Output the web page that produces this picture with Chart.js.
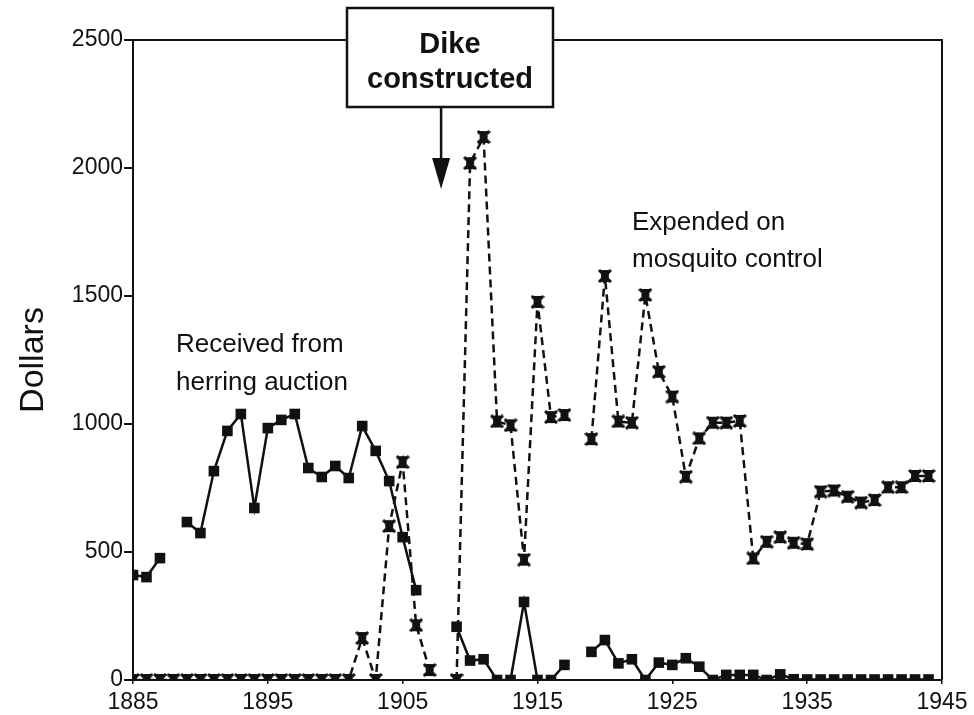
<!DOCTYPE html>
<html>
<head>
<meta charset="utf-8">
<title>Herring auction vs mosquito control</title>
<script src="https://cdn.jsdelivr.net/npm/chart.js@4.4.0/dist/chart.umd.min.js"></script>
<style>
  html, body { margin: 0; padding: 0; background: #fff; }
  #wrap { width: 974px; height: 715px; position: relative; }
</style>
</head>
<body>
<div id="wrap"><canvas id="chart" width="974" height="715"></canvas></div>
<script>
// Years on the x axis
const years = [
  1885, 1886, 1887, 1888, 1889, 1890, 1891, 1892, 1893, 1894,
  1895, 1896, 1897, 1898, 1899, 1900, 1901, 1902, 1903, 1904,
  1905, 1906, 1907, 1908, 1909, 1910, 1911, 1912, 1913, 1914,
  1915, 1916, 1917, 1918, 1919, 1920, 1921, 1922, 1923, 1924,
  1925, 1926, 1927, 1928, 1929, 1930, 1931, 1932, 1933, 1934,
  1935, 1936, 1937, 1938, 1939, 1940, 1941, 1942, 1943, 1944
];

// Received from herring auction (dollars), null = no record
const herring = [
  410, 402, 476, null, 617, 574, 816, 973, 1039, 672,
  984, 1016, 1039, 828, 793, 836, 789, 992, 895, 777,
  558, 351, null, null, 208, 76, 81, 0, 0, 305,
  0, 0, 59, null, 110, 156, 65, 81, 0, 68,
  59, 85, 52, 0, 20, 20, 20, 0, 22, 3,
  2, 2, 2, 2, 2, 2, 2, 2, 2, 2
];

// Expended on mosquito control (dollars)
const mosquito = [
  0, 0, 0, 0, 0, 0, 0, 0, 0, 0,
  0, 0, 0, 0, 0, 0, 0, 164, 0, 601,
  851, 214, 39, null, 0, 2019, 2121, 1010, 995, 470,
  1477, 1027, 1035, null, 941, 1578, 1010, 1005, 1504, 1204,
  1107, 794, 944, 1005, 1005, 1012, 475, 540, 558, 536,
  531, 736, 740, 716, 693, 703, 753, 753, 797, 797
];

const yTicks = [0, 500, 1000, 1500, 2000, 2500];
const xTicks = [1885, 1895, 1905, 1915, 1925, 1935, 1945];

const INK = '#111';
const FONT = "'Liberation Sans', Arial, Helvetica, sans-serif";

// asterisk / hourglass marker used for the mosquito series
function makeStarMarker() {
  const c = document.createElement('canvas');
  c.width = 14; c.height = 14;
  const g = c.getContext('2d');
  g.fillStyle = INK;
  g.beginPath();
  g.moveTo(1, 1); g.lineTo(13, 1); g.lineTo(7, 7);
  g.lineTo(13, 13); g.lineTo(1, 13); g.lineTo(7, 7);
  g.closePath();
  g.fill();
  g.strokeStyle = INK;
  g.lineWidth = 3;
  g.beginPath();
  g.moveTo(1, 1); g.lineTo(13, 13);
  g.moveTo(13, 1); g.lineTo(1, 13);
  g.moveTo(3, 7); g.lineTo(11, 7);
  g.stroke();
  return c;
}

function toPoints(values) {
  return values.map((v, i) => ({ x: years[i], y: v }));
}

// frame, "Dike constructed" box, arrow and text labels
const annotations = {
  id: 'annotations',
  afterDraw(chart) {
    const ctx = chart.ctx;
    const area = chart.chartArea;
    const xs = chart.scales.x;
    ctx.save();
    ctx.strokeStyle = INK;
    ctx.fillStyle = INK;

    // top and right frame lines
    ctx.lineWidth = 2;
    ctx.beginPath();
    ctx.moveTo(area.left, area.top);
    ctx.lineTo(area.right, area.top);
    ctx.lineTo(area.right, area.bottom);
    ctx.stroke();

    // box
    ctx.fillStyle = '#fff';
    ctx.fillRect(347, 8, 206, 99);
    ctx.lineWidth = 2.5;
    ctx.strokeRect(347, 8, 206, 99);

    ctx.fillStyle = INK;
    ctx.textAlign = 'center';
    ctx.textBaseline = 'alphabetic';
    ctx.font = 'bold 29px ' + FONT;
    ctx.fillText('Dike', 450, 53);
    ctx.fillText('constructed', 450, 88);

    // arrow toward the year of construction
    const ax = xs.getPixelForValue(1907.85);
    ctx.lineWidth = 2.5;
    ctx.beginPath();
    ctx.moveTo(ax, 107);
    ctx.lineTo(ax, 162);
    ctx.stroke();
    ctx.beginPath();
    ctx.moveTo(ax - 9, 158);
    ctx.lineTo(ax + 9, 158);
    ctx.lineTo(ax, 189);
    ctx.closePath();
    ctx.fill();

    // series labels
    ctx.textAlign = 'left';
    ctx.font = '26px ' + FONT;
    ctx.fillText('Received from', 176, 352);
    ctx.fillText('herring auction', 176, 390);
    ctx.fillText('Expended on', 632, 230);
    ctx.fillText('mosquito control', 632, 267);

    // y axis title
    ctx.translate(43, 360);
    ctx.rotate(-Math.PI / 2);
    ctx.textAlign = 'center';
    ctx.font = '34px ' + FONT;
    ctx.fillText('Dollars', 0, 0);
    ctx.restore();
  }
};

const ctx = document.getElementById('chart').getContext('2d');
new Chart(ctx, {
  type: 'line',
  data: {
    datasets: [{
      label: 'Received from herring auction',
      data: toPoints(herring),
      borderColor: INK,
      backgroundColor: INK,
      borderWidth: 2.5,
      pointStyle: 'rect',
      pointRadius: 7.5,
      pointBorderWidth: 0,
      spanGaps: false,
      tension: 0
    }, {
      label: 'Expended on mosquito control',
      data: toPoints(mosquito),
      borderColor: INK,
      backgroundColor: INK,
      borderWidth: 2.5,
      borderDash: [8, 5],
      pointStyle: makeStarMarker(),
      pointRadius: 7,
      spanGaps: false,
      tension: 0
    }]
  },
  options: {
    responsive: false,
    animation: false,
    layout: { padding: { top: 40, right: 32, left: 0, bottom: 0 } },
    plugins: {
      legend: { display: false },
      tooltip: { enabled: false }
    },
    scales: {
      x: {
        type: 'linear',
        min: 1885,
        max: 1945,
        afterFit: s => { s.height = 35; },
        afterBuildTicks: s => { s.ticks = xTicks.map(v => ({ value: v })); },
        ticks: {
          color: INK,
          font: { family: FONT, size: 23 },
          padding: 5,
          maxRotation: 0,
          callback: v => String(v)
        },
        grid: { drawOnChartArea: false, tickLength: 4, color: INK, lineWidth: 1.5 },
        border: { color: INK, width: 2 }
      },
      y: {
        min: 0,
        max: 2500,
        afterFit: s => { s.width = 133; },
        afterBuildTicks: s => { s.ticks = yTicks.map(v => ({ value: v })); },
        ticks: {
          color: INK,
          font: { family: FONT, size: 23 },
          padding: 1,
          callback: v => String(v)
        },
        grid: { drawOnChartArea: false, tickLength: 9, color: INK, lineWidth: 2 },
        border: { color: INK, width: 2 }
      }
    }
  },
  plugins: [annotations]
});
</script>
</body>
</html>
